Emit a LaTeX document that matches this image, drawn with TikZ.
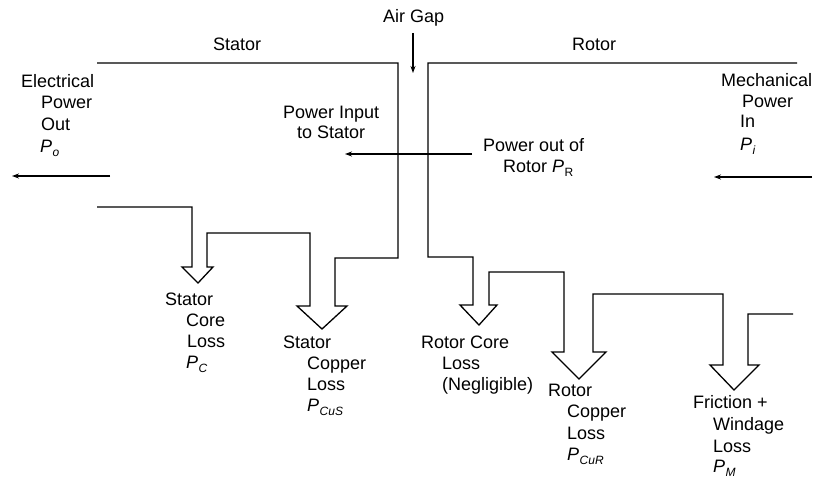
\documentclass[tikz,border=0pt]{standalone}
\usepackage{fontspec}
\setmainfont{Liberation Sans}
\usetikzlibrary{arrows.meta}
\newcommand\PPsub[1]{\textit{P}\kern0.5pt\raisebox{-0.5ex}{\fontsize{12}{12}\selectfont\itshape #1}}
\tikzset{
  lbl/.style={anchor=base west, inner sep=0pt, font=\fontsize{18}{21}\selectfont},
  band/.style={line width=1.3pt, line join=miter},
  flow/.style={line width=1.1pt, -{Stealth[length=7pt,width=5pt]}}
}
\begin{document}
\begin{tikzpicture}[x=1pt,y=-1pt]
\useasboundingbox (0,0) rectangle (813,484);
% stator band with loss arrows
\draw[band] (97,207) -- (192,207) -- (192,267) -- (182,267) -- (198,283) -- (213,267) -- (207,267)
  -- (207,233) -- (310,233) -- (310,306) -- (297,306) -- (322,329) -- (347,306) -- (335,306)
  -- (335,258) -- (398,258) -- (398,63) -- (97,63);
% rotor band with loss arrows
\draw[band] (797,63) -- (428,63) -- (428,257) -- (473,257) -- (473,305) -- (460,305) -- (479,325)
  -- (497,305) -- (489,305) -- (489,272) -- (564,272) -- (564,352) -- (552,352) -- (579,379)
  -- (606,352) -- (593,352) -- (593,294) -- (723,294) -- (723,365) -- (710,365) -- (734,390)
  -- (759,365) -- (748,365) -- (748,314) -- (793,314);
% flow arrows
\coordinate (eoS) at (110,176); \coordinate (eoE) at (12,176);
\coordinate (miS) at (812,177); \coordinate (miE) at (714,177);
\coordinate (pS) at (472,154); \coordinate (pE) at (345,154);
\coordinate (agS) at (413,33); \coordinate (agE) at (413,73);
\draw[flow] (eoS) -- (eoE);
\draw[flow] (miS) -- (miE);
\draw[flow] (pS) -- (pE);
\draw[flow] (agS) -- (agE);
% labels
\node[lbl] (airgap) at (383,23) {Air Gap};
\node[lbl] (stator) at (213,51) {Stator};
\node[lbl] (rotor) at (572,51) {Rotor};
\node[lbl] (eo1) at (21,88) {Electrical};
\node[lbl] (eo2) at (41,109) {Power};
\node[lbl] (eo3) at (41,131) {Out};
\node[lbl] (eo4) at (40,152) {\PPsub{o}};
\node[lbl] (mi1) at (721,87) {Mechanical};
\node[lbl] (mi2) at (742,107) {Power};
\node[lbl] (mi3) at (740,128) {In};
\node[lbl] (mi4) at (740,150) {\PPsub{i}};
\node[lbl] (pi1) at (283,118) {Power Input};
\node[lbl] (pi2) at (297,139) {to Stator};
\node[lbl] (po1) at (483,151) {Power out of};
\node[lbl] (po2) at (503,172) {Rotor \textit{P}\kern0.5pt\raisebox{-0.5ex}{\fontsize{12}{12}\selectfont R}};
\node[lbl] (sc1) at (165,305) {Stator};
\node[lbl] (sc2) at (186,326) {Core};
\node[lbl] (sc3) at (187,347) {Loss};
\node[lbl] (sc4) at (186,368) {\PPsub{C}};
\node[lbl] (su1) at (283,348) {Stator};
\node[lbl] (su2) at (307,369) {Copper};
\node[lbl] (su3) at (307,390) {Loss};
\node[lbl] (su4) at (307,411) {\PPsub{CuS}};
\node[lbl] (rc1) at (421,348) {Rotor Core};
\node[lbl] (rc2) at (442,369) {Loss};
\node[lbl] (rc3) at (442,390) {(Negligible)};
\node[lbl] (ru1) at (548,396) {Rotor};
\node[lbl] (ru2) at (567,417) {Copper};
\node[lbl] (ru3) at (567,439) {Loss};
\node[lbl] (ru4) at (567,460) {\PPsub{CuR}};
\node[lbl] (fw1) at (693,408) {Friction +};
\node[lbl] (fw2) at (713,430) {Windage};
\node[lbl] (fw3) at (713,452) {Loss};
\node[lbl] (fw4) at (713,472) {\PPsub{M}};
\end{tikzpicture}
\end{document}
